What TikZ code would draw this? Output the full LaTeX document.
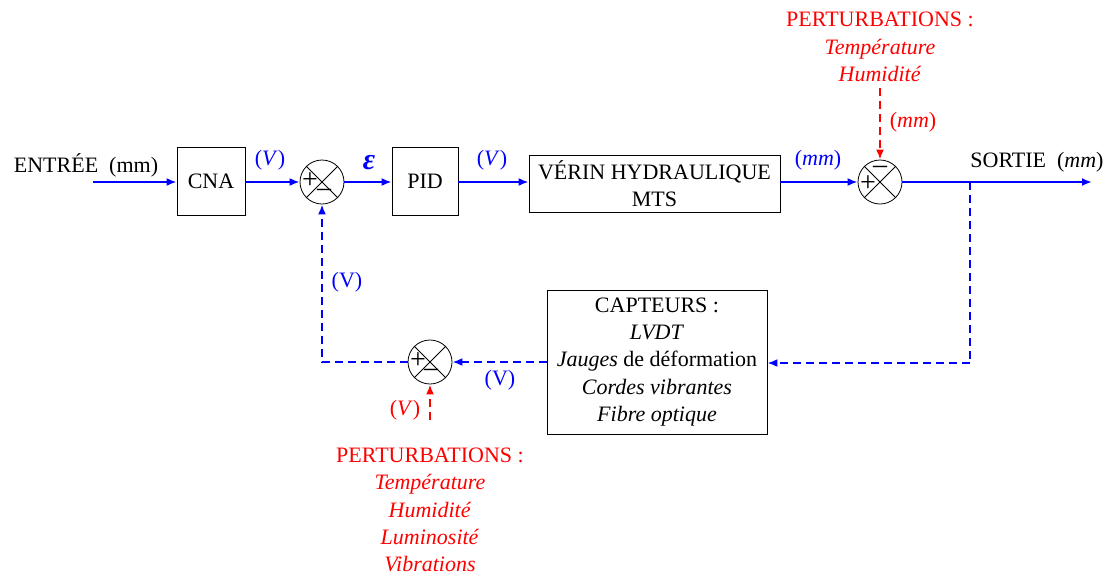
\documentclass[tikz,border=0pt]{standalone}
\usepackage{fontspec}
\setmainfont{Liberation Serif}
\usetikzlibrary{arrows.meta,calc}
\begin{document}
\begin{tikzpicture}[x=0.5pt,y=-0.5pt,
  every node/.style={font=\fontsize{11}{13.6}\selectfont},
  blk/.style={draw,thin,minimum width=#1},
  sumj/.style={draw,thin,circle,minimum size=22pt,inner sep=0pt},
  sig/.style={blue,line width=1.1pt,-{Latex[length=5pt,width=4pt]}},
  fb/.style={blue,line width=1.1pt,dashed,dash pattern=on 4pt off 2.5pt,-{Latex[length=5pt,width=4pt]}},
  pert/.style={red,line width=1.1pt,dashed,dash pattern=on 4pt off 2.5pt,-{Latex[length=5pt,width=4pt]}},
  pm/.style={inner sep=0pt,font=\fontsize{14}{14}\selectfont},
  ml/.style={align=center,inner sep=0pt,execute at begin node=\setlength{\baselineskip}{13.6pt}}
]
\useasboundingbox (0,0) rectangle (1110,574);
% blocks
\node[blk=34pt,minimum height=34pt] (cna) at (211,181) {CNA};
\node[blk=33pt,minimum height=34pt] (pid) at (425,181) {PID};
\node[blk=125.5pt,minimum height=28.5pt,ml] (verin) at (654.5,183.5) {VÉRIN HYDRAULIQUE\\MTS};
\node[blk=110pt,minimum height=72pt,ml] (capt) at (657,362) {CAPTEURS :\\\textit{LVDT}\\\textit{Jauges} de déformation\\\textit{Cordes vibrantes}\\\textit{Fibre optique}};
% summing junctions
\foreach \n/\x/\y in {s1/322/182, s2/880/182, s3/430/362}{
  \node[sumj] (\n) at (\x,\y) {};
  \draw[thin] (\n.north east) -- (\n.south west) (\n.north west) -- (\n.south east);
}
\node[pm] (s1p) at ($(s1.center)+(-12,-1)$) {+};
\node[pm] (s1m) at ($(s1.center)+(2,11)$) {–};
\node[pm] (s2p) at ($(s2.center)+(-12,2)$) {+};
\node[pm] (s2m) at ($(s2.center)+(0,-12)$) {–};
\node[pm] (s3p) at ($(s3.center)+(-12,-1)$) {+};
\node[pm] (s3m) at ($(s3.center)+(1,11)$) {–};
% coordinates
\coordinate (in) at (93,182);
\coordinate (out) at (1092,182);
\coordinate (br) at (970,182);
\coordinate (brd) at (970,363);
\coordinate (fbc) at (322,362);
\coordinate (p2s) at (880,88);
\coordinate (p3n) at (430,420);
% text labels
\node (entree) at (86,165) {ENTRÉE\ \ (mm)};
\node (sortie) at (1037,162) {SORTIE\ \ (\textit{mm})};
\node[blue] (l1) at (270,160) {(\textit{V})};
\node[blue,font=\fontsize{15}{15}\selectfont] (eps) at (369,163) {\textbf{\textit{ε}}};
\node[blue] (l2) at (492,160) {(\textit{V})};
\node[blue] (l3) at (818,160) {(\textit{mm})};
\node[blue] (l4) at (347,282) {(V)};
\node[blue] (l5) at (500,380) {(V)};
\node[red] (l6) at (405,410) {(\textit{V})};
\node[red] (l7) at (913,122) {(\textit{mm})};
\node[red,ml] (p2) at (880,47) {PERTURBATIONS :\\\textit{Température}\\\textit{Humidité}};
\node[red,ml] (p3) at (430,510) {PERTURBATIONS :\\\textit{Température}\\\textit{Humidité}\\\textit{Luminosité}\\\textit{Vibrations}};
% connectors
\draw[sig] (in) -- (cna.west |- in);
\draw[sig] (cna.east |- s1.west) -- (s1.west);
\draw[sig] (s1.east) -- (pid.west |- s1.east);
\draw[sig] (pid.east |- s1.east) -- (verin.west |- s1.east);
\draw[sig] (verin.east |- s2.west) -- (s2.west);
\draw[sig] (s2.east) -- (out);
\draw[fb,-] (br) -- (brd);
\draw[fb] (brd) -- (capt.east |- brd);
\draw[fb] (capt.west |- s3.east) -- (s3.east);
\draw[fb] (s3.west) -- (fbc) -- (s1.south);
\draw[pert] (p2s) -- (s2.north);
\draw[pert] (p3n) -- (s3.south);
\end{tikzpicture}
\end{document}
